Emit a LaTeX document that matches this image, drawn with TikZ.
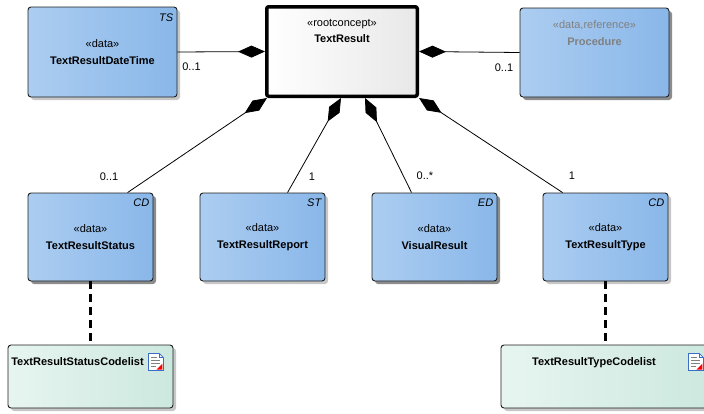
\documentclass[tikz,border=0pt]{standalone}
\usepackage{fontspec}
\setmainfont{Liberation Sans}
\usepackage{tikz}
\usetikzlibrary{positioning,arrows.meta,shadows,calc}

\definecolor{blueL}{RGB}{172,205,241}
\definecolor{blueR}{RGB}{137,183,233}
\definecolor{greenL}{RGB}{231,245,240}
\definecolor{greenR}{RGB}{204,232,222}
\definecolor{rootR}{RGB}{232,232,232}
\definecolor{edge}{RGB}{30,30,30}
\definecolor{iconblue}{RGB}{60,110,200}

\tikzset{
  umlfont/.style={font=\fontsize{11}{16.5}\selectfont},
  lightshadow/.style={drop shadow={shadow xshift=3pt,shadow yshift=-3pt,fill=black!22,opacity=1}},
  darkshadow/.style={drop shadow={shadow xshift=3pt,shadow yshift=-3pt,fill=black!45,opacity=1}},
  databox/.style={draw=edge,line width=0.9pt,rounded corners=3pt,left color=blueL,right color=blueR,
    minimum width=125pt,minimum height=88pt,align=center,inner sep=0pt,umlfont},
  rootbox/.style={draw=black,line width=3.5pt,rounded corners=2pt,left color=white,right color=rootR,
    minimum width=150.5pt,minimum height=89.5pt,inner sep=0pt},
  codebox/.style={draw=edge,line width=0.9pt,rounded corners=3pt,left color=greenL,right color=greenR,
    minimum height=63pt,inner sep=0pt,lightshadow},
  boxtext/.style={umlfont,align=center,inner sep=0pt},
  tag/.style={font=\fontsize{11}{12}\selectfont\itshape,inner sep=0pt},
  mult/.style={font=\fontsize{11}{12}\selectfont,inner sep=0pt},
  comp/.style={-{Diamond[length=27pt,width=12pt]},line width=0.8pt},
  reallink/.style={line width=2.2pt,dash pattern=on 8pt off 5pt},
  docicon/.pic={
    \draw[draw=iconblue,fill=white,line width=0.7pt] (-15,0) -- (-4,0) -- (0,4) -- (0,17) -- (-15,17) -- cycle;
    \draw[draw=iconblue,line width=0.5pt] (-4,0) -- (-4,4) -- (0,4);
    \draw[gray,line width=0.6pt] (-12,4) -- (-6,4) (-12,7) -- (-3,7) (-12,10) -- (-3,10) (-12,13) -- (-7,13);
    \fill[red] (-1,10) -- (-1,16) -- (-7,16) -- cycle;
  }
}

\begin{document}
\begin{tikzpicture}[x=1pt,y=-1pt]
	\useasboundingbox (0,0) rectangle (704,413);

	% top row
	\node[databox,lightshadow,minimum width=149pt,minimum height=90pt] (dt) at (102.5,52) {«data»\\\textbf{TextResultDateTime}};
	\node[rootbox] (root) at (342,51.5) {};
	\node[databox,darkshadow,minimum width=149pt,minimum height=89pt] (proc) at (594.5,52.5) {};
	\node[tag,anchor=north east] at ([xshift=-4pt,yshift=-7pt]dt.north east) {TS};
	\node[boxtext,anchor=north] (rootname) at ([yshift=-14pt]root.north) {«rootconcept»\\\textbf{TextResult}};
	\node[boxtext,anchor=north,text=black!50] (procname) at ([yshift=-13pt]proc.north) {«data,reference»\\\textbf{Procedure}};

	% middle row
	\node[databox,darkshadow] (status) at (90.5,237) {«data»\\\textbf{TextResultStatus}};
	\node[databox,lightshadow] (report) at (262.5,237) {«data»\\\textbf{TextResultReport}};
	\node[databox,darkshadow] (visual) at (434.5,237) {«data»\\\textbf{VisualResult}};
	\node[databox,lightshadow] (type) at (605.5,237) {«data»\\\textbf{TextResultType}};
	\node[tag,anchor=north east] at ([xshift=-4pt,yshift=-6pt]status.north east) {CD};
	\node[tag,anchor=north east] at ([xshift=-4pt,yshift=-6pt]report.north east) {ST};
	\node[tag,anchor=north east] at ([xshift=-4pt,yshift=-6pt]visual.north east) {ED};
	\node[tag,anchor=north east] at ([xshift=-4pt,yshift=-6pt]type.north east) {CD};

	% code lists
	\node[codebox,minimum width=165pt] (statuscl) at (90.5,376.5) {};
	\node[codebox,minimum width=212pt] (typecl) at (607,376.5) {};
	\node[boxtext,anchor=north] at ([xshift=-13pt,yshift=-13pt]statuscl.north) {\textbf{TextResultStatusCodelist}};
	\node[boxtext,anchor=north] at ([xshift=-13pt,yshift=-13pt]typecl.north) {\textbf{TextResultTypeCodelist}};
	\pic at ([xshift=-10pt,yshift=-9pt]statuscl.north east) {docicon};
	\pic at ([xshift=-10pt,yshift=-9pt]typecl.north east) {docicon};

	% compositions
	\draw[comp] (dt.east) -- (root.west);
	\draw[comp] (proc.west) -- (root.east);
	\draw[comp] ([xshift=100pt]status.north west) -- ([xshift=2pt]root.south west);
	\draw[comp] ([xshift=88pt]report.north west) -- ([xshift=76pt]root.south west);
	\draw[comp] ([xshift=40pt]visual.north west) -- ([xshift=100pt]root.south west);
	\draw[comp] ([xshift=20pt]type.north west) -- (root.south east);

	\node[mult] at (191.5,67) {0..1};
	\node[mult] at (504,67.5) {0..1};
	\node[mult] at (109,177) {0..1};
	\node[mult] at (312,177) {1};
	\node[mult] at (425,176) {0..*};
	\node[mult] at (572,176) {1};

	% code list links
	\draw[reallink] (status.south) -- (statuscl.north);
	\draw[reallink] (type.south) -- ([xshift=-1.5pt]typecl.north);
\end{tikzpicture}
\end{document}
